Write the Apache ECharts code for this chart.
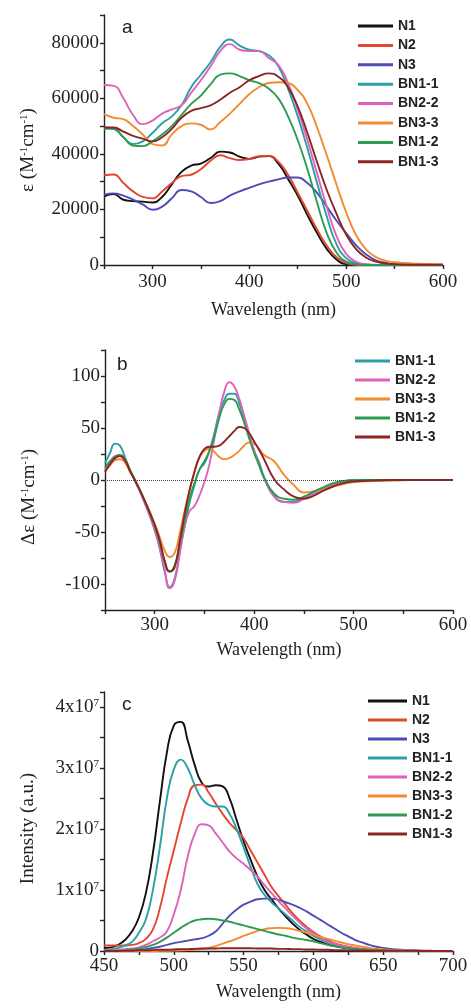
<!DOCTYPE html>
<html><head><meta charset="utf-8">
<script src="https://cdn.jsdelivr.net/npm/echarts@6/dist/echarts.min.js"></script>
<style>html,body{margin:0;padding:0;background:#fff}#c{width:471px;height:1008px}</style>
</head><body><div id="c"></div>
<script>
// ---------- Panel a: absorption (epsilon, M^-1 cm^-1) ----------
const absWl = [250,260,270,280,290,300,310,320,330,340,350,360,370,380,390,400,410,420,430,440,450,460,470,480,490,500,510,520,530,540,550,560,570,580,590,600];
const absN1 = [24700,25500,23500,23000,22800,22500,24500,29000,33500,35800,36500,38500,40800,40500,39000,38200,39000,39200,36500,31000,25000,18000,11500,5800,2000,300,0,0,0,0,0,0,0,0,0,0];
const absN2 = [32300,32600,29500,26500,24500,24000,26500,29500,32000,32500,34500,37500,39500,38500,37800,38200,39200,39300,37200,32500,26000,19500,12800,7000,2800,700,100,0,0,0,0,0,0,0,0,0];
const absN3 = [25300,25800,25000,23500,21800,19900,21000,24000,27000,26500,24500,22300,23000,25000,26500,27800,29000,30000,30800,31500,31500,29500,26000,21000,16000,11500,7200,4000,1800,800,300,100,0,0,0,0];
const absBN11 = [49500,49000,46000,43500,44500,47500,51000,53500,57500,64000,68500,73000,78500,81200,79000,77500,77000,75500,71500,63500,53500,42000,29500,17500,7500,2500,700,200,0,0,0,0,0,0,0,0];
const absBN22 = [64800,64500,60000,54000,50700,52000,54500,56000,57500,62000,66500,71500,77000,79500,77500,77000,77000,74500,72000,65500,56000,45000,33000,21000,10500,4000,1200,300,100,0,0,0,0,0,0,0];
const absBN33 = [54300,53000,52500,50000,47000,43500,43000,47000,50000,51000,50500,48800,51500,54500,58000,61500,64000,65500,65800,65500,63000,58000,49500,39500,29000,19000,11000,5800,3000,1600,1000,700,500,400,300,300];
const absBN12 = [49000,49000,46000,43000,42800,44500,47000,50000,54000,58000,61000,65000,68500,69000,68000,66500,65500,63500,60000,53500,45000,34500,22500,11500,4500,1200,300,0,0,0,0,0,0,0,0,0];
const absBN13 = [49500,49500,48000,46500,45500,44500,46000,49000,53000,55500,56500,57500,59500,62000,64000,66500,68000,69000,67800,64000,57000,47500,37000,27000,18500,11000,5800,2800,1300,600,300,150,100,100,100,100];
const absXLabels = [300,400,500,600];
const absYLabels = [0,20000,40000,60000,80000];

// ---------- Panel b: CD (delta epsilon) ----------
const cdWl = [250,255,260,265,270,275,280,290,300,305,310,315,320,325,330,335,340,345,350,355,360,365,370,375,380,385,390,395,400,405,410,420,430,440,450,460,470,480,490,500,520,540,560,580,600];
const cdBN11 = [16,26,35,33,22,10,0,-22,-48,-66,-88,-103,-95,-70,-45,-22,-5,10,16,28,45,65,77,83,83,74,58,42,28,17,3,-15,-21,-21,-17,-12,-7,-3,-1,0,0,0,0,0,0];
const cdBN22 = [10,17,23,24,19,9,0,-22,-48,-65,-86,-104,-97,-72,-45,-30,-25,-15,-2,15,40,65,85,94,90,78,62,45,28,15,2,-16,-21,-22,-18,-13,-8,-4,-1.5,-0.5,0,0,0,0,0];
const cdBN33 = [8,14,19,20,17,8,0,-20,-42,-55,-68,-74,-70,-52,-30,-10,8,22,28,30,27,22,20,21,24,28,33,36,35,30,24,18,5,-5,-12,-11,-8,-6,-4,-2,-1,-0.5,0,0,0];
const cdBN12 = [12,18,22,24,20,10,0,-20,-45,-60,-78,-88,-82,-62,-40,-18,-3,10,18,28,42,60,73,78,77,68,55,40,26,14,2,-13,-18,-19,-16,-11,-7,-3,-1,0,0,0,0,0,0];
const cdBN13 = [8,15,21,23,19,9,0,-20,-43,-58,-78,-88,-84,-60,-33,-10,8,22,30,32,32,33,37,42,47,51,50,45,37,29,20,1,-9,-16,-18,-15,-10,-6,-3,-1.5,-0.5,0,0,0,0];
const cdXLabels = [300,400,500,600];
const cdYLabels = [-100,-50,0,50,100];

// ---------- Panel c: emission intensity (units of 10^7 a.u.) ----------
const plWl = [450,455,460,465,470,475,480,485,490,495,500,505,510,515,520,525,530,535,540,545,550,555,560,565,570,575,580,585,590,595,600,605,610,615,620,625,630,635,640,645,650,655,660,665,670,675,680,685,690,695,700];
const plN1 = [0.05,0.06,0.1,0.18,0.32,0.55,0.95,1.6,2.45,3.25,3.7,3.76,3.45,3.05,2.76,2.7,2.72,2.7,2.5,2.15,1.8,1.5,1.22,1.0,0.85,0.7,0.57,0.45,0.35,0.27,0.2,0.15,0.11,0.08,0.06,0.045,0.035,0.025,0.02,0.015,0.01,0.008,0.006,0.005,0.004,0.003,0.002,0.002,0.001,0.001,0];
const plN2 = [0.09,0.09,0.09,0.09,0.1,0.13,0.2,0.35,0.7,1.2,1.65,2.1,2.5,2.72,2.73,2.6,2.42,2.25,2.1,1.98,1.85,1.65,1.45,1.25,1.05,0.9,0.76,0.62,0.5,0.4,0.31,0.24,0.18,0.13,0.095,0.07,0.05,0.035,0.025,0.018,0.012,0.008,0.006,0.005,0.004,0.003,0.002,0.002,0.001,0.001,0];
const plN3 = [0,0,0.005,0.01,0.015,0.02,0.03,0.05,0.07,0.1,0.13,0.15,0.17,0.19,0.21,0.25,0.32,0.45,0.58,0.68,0.76,0.81,0.85,0.86,0.86,0.84,0.8,0.76,0.71,0.65,0.58,0.51,0.44,0.37,0.3,0.24,0.18,0.14,0.1,0.07,0.05,0.035,0.025,0.018,0.012,0.008,0.005,0.003,0.002,0.001,0];
const plBN11 = [0.02,0.03,0.05,0.09,0.15,0.3,0.52,1.0,1.7,2.5,2.98,3.14,3.0,2.72,2.5,2.4,2.37,2.37,2.25,2.0,1.7,1.38,1.1,0.92,0.8,0.7,0.6,0.5,0.4,0.32,0.25,0.19,0.14,0.1,0.07,0.05,0.035,0.025,0.018,0.012,0.008,0.005,0.004,0.003,0.002,0.002,0.001,0.001,0,0,0];
const plBN22 = [0.01,0.01,0.02,0.03,0.04,0.06,0.1,0.16,0.22,0.32,0.6,1.0,1.55,1.92,2.08,2.06,1.93,1.78,1.63,1.52,1.43,1.33,1.22,1.08,0.95,0.82,0.7,0.58,0.47,0.37,0.29,0.22,0.16,0.12,0.09,0.065,0.045,0.03,0.02,0.015,0.01,0.008,0.006,0.005,0.004,0.003,0.002,0.002,0.001,0.001,0];
const plBN33 = [0,0,0,0,0,0,0,0,0.002,0.004,0.006,0.01,0.015,0.02,0.03,0.05,0.08,0.12,0.16,0.2,0.25,0.29,0.33,0.36,0.375,0.38,0.375,0.36,0.33,0.3,0.27,0.23,0.2,0.17,0.14,0.11,0.09,0.07,0.05,0.035,0.025,0.018,0.012,0.008,0.006,0.004,0.003,0.002,0.001,0.001,0];
const plBN12 = [0,0,0.005,0.01,0.02,0.04,0.065,0.1,0.15,0.22,0.3,0.38,0.45,0.5,0.52,0.53,0.52,0.5,0.48,0.45,0.42,0.39,0.36,0.33,0.3,0.27,0.25,0.22,0.2,0.18,0.16,0.13,0.1,0.08,0.06,0.045,0.035,0.025,0.018,0.012,0.008,0.006,0.004,0.003,0.002,0.001,0.001,0,0,0,0];
const plBN13 = [0,0,0,0.005,0.005,0.01,0.01,0.015,0.02,0.02,0.025,0.03,0.03,0.035,0.04,0.04,0.04,0.045,0.045,0.045,0.045,0.045,0.04,0.04,0.04,0.035,0.035,0.03,0.03,0.025,0.025,0.02,0.02,0.015,0.015,0.01,0.01,0.008,0.006,0.005,0.004,0.003,0.003,0.002,0.002,0.001,0.001,0.001,0,0,0];
const plXLabels = [450,500,550,600,650,700];
const plYLabels = [0,1,2,3,4];

const allNames = ['N1','N2','N3','BN1-1','BN2-2','BN3-3','BN1-2','BN1-3'];
const cdNames = ['BN1-1','BN2-2','BN3-3','BN1-2','BN1-3'];

// ---------- styles ----------
const palette = {'N1':'#111111','N2':'#e4462e','N3':'#4d4db3','BN1-1':'#2b9fa8','BN2-2':'#de62b8','BN3-3':'#f38b30','BN1-2':'#2e9b52','BN1-3':'#8c2424'};
const SERIF = "'Liberation Serif','Times New Roman',serif";
const SANS = "'Liberation Sans',Arial,sans-serif";
const INK = '#222';

function mk(name, xs, ys, gi) {
  return {
    name, type: 'line', xAxisIndex: gi, yAxisIndex: gi,
    data: xs.map((x, i) => [x, ys[i]]),
    showSymbol: false, symbol: 'none', smooth: 0.5,
    lineStyle: { width: 1.9, color: palette[name] },
    itemStyle: { color: palette[name] }, emphasis: { disabled: true }
  };
}
const lineSt = { color: INK, width: 1.4 };
function xAx(gi, min, max, step, labels, margin, gap) {
  return {
    type: 'value', gridIndex: gi, min, max, interval: step,
    splitLine: { show: false },
    axisLine: { onZero: false, lineStyle: lineSt },
    axisTick: { length: 4, lineStyle: lineSt },
    axisLabel: { margin, fontFamily: SERIF, fontSize: 19, color: INK,
      formatter: v => labels.includes(v) ? String(v) : '' },
    name: 'Wavelength (nm)', nameLocation: 'middle', nameGap: gap,
    nameTextStyle: { fontFamily: SERIF, fontSize: 18, color: INK }
  };
}
function yAx(gi, min, max, step, fmt, name, pad) {
  return {
    type: 'value', gridIndex: gi, min, max, interval: step,
    splitLine: { show: false },
    axisLine: { onZero: false, lineStyle: lineSt },
    axisTick: { length: 4, lineStyle: lineSt },
    axisLabel: { margin: 5, fontFamily: SERIF, fontSize: 19, color: INK, formatter: fmt,
      rich: { n: { fontFamily: SERIF, fontSize: 19, color: INK },
              s: { fontFamily: SERIF, fontSize: 11, color: INK, verticalAlign: 'top' } } },
    name, nameLocation: 'middle', nameGap: 66,
    nameTextStyle: { fontFamily: SERIF, fontSize: 19, color: INK, padding: pad,
      rich: { t: { fontFamily: SERIF, fontSize: 19, color: INK },
              s: { fontFamily: SERIF, fontSize: 11, color: INK, verticalAlign: 'top' } } }
  };
}
function legendAt(names, left, top, gap, w) {
  return { data: names, orient: 'vertical', left, top, padding: 0, itemGap: gap,
    itemWidth: w, itemHeight: 3, icon: 'rect', selectedMode: false,
    textStyle: { fontFamily: SANS, fontWeight: 'bold', fontSize: 14, color: INK } };
}

const absSets = [absN1, absN2, absN3, absBN11, absBN22, absBN33, absBN12, absBN13];
const cdSets = [cdBN11, cdBN22, cdBN33, cdBN12, cdBN13];
const plSets = [plN1, plN2, plN3, plBN11, plBN22, plBN33, plBN12, plBN13];

const series = [];
allNames.forEach((n, i) => series.push(mk(n, absWl, absSets[i], 0)));
cdNames.forEach((n, i) => series.push(mk(n, cdWl, cdSets[i], 1)));
series[8].markLine = { silent: true, symbol: 'none', label: { show: false },
  lineStyle: { type: 'dotted', color: '#444', width: 1 }, data: [{ yAxis: 0 }] };
allNames.forEach((n, i) => series.push(mk(n, plWl, plSets[i], 2)));

const option = {
  animation: false,
  backgroundColor: '#fff',
  grid: [
    { left: 104, top: 15, width: 339, height: 250 },
    { left: 105, top: 350, width: 348, height: 260 },
    { left: 104, top: 692, width: 349, height: 259 }
  ],
  xAxis: [
    xAx(0, 250, 600, 50, absXLabels, 8, 36),
    xAx(1, 250, 600, 50, cdXLabels, 6, 31),
    xAx(2, 450, 700, 25, plXLabels, 6, 32)
  ],
  yAxis: [
    yAx(0, 0, 90000, 10000, v => absYLabels.includes(v) ? String(v) : '',
        '{t|ε (M}{s|-1}{t|cm}{s|-1}{t|)}', [0, 20, 0, 0]),
    yAx(1, -125, 125, 25, v => cdYLabels.includes(v) ? String(v) : '',
        '{t|Δε (M}{s|-1}{t|cm}{s|-1}{t|)}', [0, 34, 0, 0]),
    yAx(2, 0, 4.25, 0.5, v => plYLabels.includes(v) ? (v === 0 ? '{n|0}' : '{n|' + v + 'x10}{s|7}') : '',
        'Intensity (a.u.)', [0, 14, 0, 0])
  ],
  legend: [
    legendAt(allNames, 358, 19, 5.4, 35),
    legendAt(cdNames, 355, 354, 5, 35),
    legendAt(allNames, 368, 694, 5, 39)
  ],
  graphic: [
    { type: 'text', left: 122, top: 18, style: { text: 'a', font: '19px ' + SANS, fill: INK } },
    { type: 'text', left: 117, top: 355, style: { text: 'b', font: '19px ' + SANS, fill: INK } },
    { type: 'text', left: 122, top: 695, style: { text: 'c', font: '19px ' + SANS, fill: INK } }
  ],
  series
};
const chart = echarts.init(document.getElementById('c'), null, { renderer: 'canvas' });
chart.setOption(option);
</script>
</body></html>
